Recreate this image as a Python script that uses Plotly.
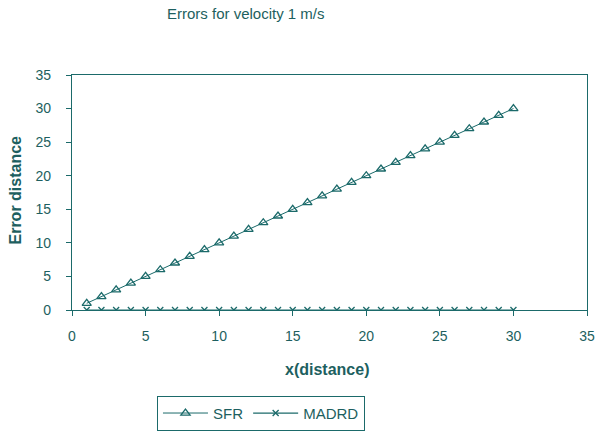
import plotly.graph_objects as go

x_vals = list(range(1, 31))
sfr = [1, 2, 3, 4, 5, 6, 7, 8, 9, 10, 11, 12, 13, 14, 15, 16, 17, 18, 19, 20,
       21, 22, 23, 24, 25, 26, 27, 28, 29, 30]
madrd = [0] * 30
tick_vals = [0, 5, 10, 15, 20, 25, 30, 35]

C = "#1b6a6a"
TXT = "#1d5f60"
FONT = "Liberation Sans, Arial, sans-serif"

fig = go.Figure()
fig.add_trace(go.Scatter(x=x_vals, y=sfr, name="SFR", mode="lines+markers",
                         line=dict(color=C, width=1),
                         marker=dict(symbol="triangle-up-open", size=8,
                                     color=C, line=dict(width=1.3, color=C))))
fig.add_trace(go.Scatter(x=x_vals, y=madrd, name="MADRD", mode="lines+markers",
                         line=dict(color=C, width=1.2),
                         marker=dict(symbol="x-thin-open", size=6,
                                     color=C, line=dict(width=1.3, color=C))))

axis_common = dict(range=[0, 35], tickvals=tick_vals, automargin=False,
                   showgrid=False, zeroline=False, showline=True, linecolor=C,
                   linewidth=1.3, mirror=True, ticks="outside", ticklen=5,
                   tickcolor=C, tickfont=dict(size=14, color=TXT))

fig.update_layout(
    width=595, height=435,
    margin=dict(l=72, r=8, t=75, b=125, autoexpand=False),
    paper_bgcolor="white", plot_bgcolor="white",
    font=dict(family=FONT, size=14, color=TXT),
    title=dict(text="Errors for velocity 1 m/s", x=0.413, xanchor="center",
               y=0.968, yanchor="middle", font=dict(size=15, color=TXT)),
    showlegend=True,
    legend=dict(orientation="h", x=0.165, y=-0.365, xanchor="left", yanchor="top",
                bordercolor=C, borderwidth=1, font=dict(size=15, color=TXT),
                itemwidth=45, tracegroupgap=0),
    xaxis=dict(**axis_common, ticklabelstandoff=8),
    yaxis=dict(**axis_common, ticklabelstandoff=12),
    annotations=[
        dict(text="<b>x(distance)</b>", xref="paper", yref="paper",
             x=0.495, y=-0.255, xanchor="center", yanchor="middle",
             showarrow=False, font=dict(size=16, color=TXT)),
        dict(text="<b>Error distance</b>", xref="paper", yref="paper",
             x=-0.11, y=0.51, xanchor="center", yanchor="middle",
             textangle=-90, showarrow=False, font=dict(size=16, color=TXT)),
    ],
)

fig.write_html("out.html")
